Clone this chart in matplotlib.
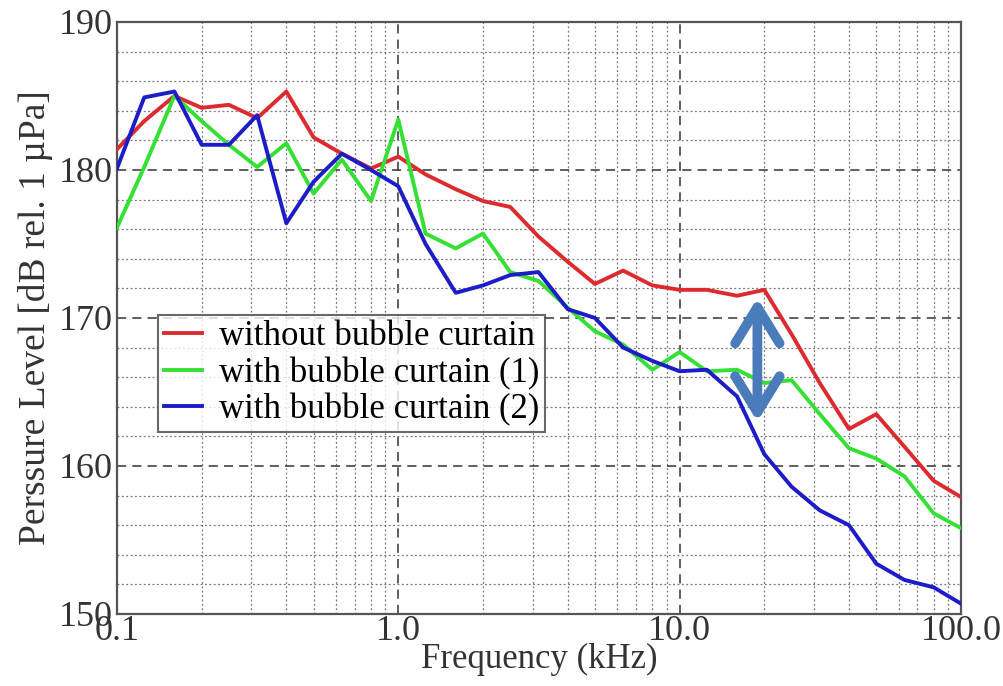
import numpy as np
import matplotlib
matplotlib.use("Agg")
import matplotlib.pyplot as plt
from matplotlib.ticker import FixedLocator, FixedFormatter, NullFormatter, LogLocator

# 1/3-octave band centre frequencies (kHz)
freq = [0.1, 0.125, 0.16, 0.2, 0.25, 0.315, 0.4, 0.5, 0.63, 0.8,
        1.0, 1.25, 1.6, 2.0, 2.5, 3.15, 4.0, 5.0, 6.3, 8.0,
        10.0, 12.5, 16.0, 20.0, 25.0, 31.5, 40.0, 50.0, 63.0, 80.0, 100.0]

no_curtain = [181.4, 183.3, 185.0, 184.2, 184.4, 183.5, 185.3, 182.2, 181.1, 180.1,
              180.9, 179.7, 178.7, 177.9, 177.5, 175.5, 173.8, 172.3, 173.2, 172.2,
              171.9, 171.9, 171.5, 171.9, 168.9, 165.6, 162.5, 163.5, 161.3, 159.0, 157.9]

curtain_1 = [176.1, 180.2, 185.0, 183.3, 181.7, 180.2, 181.8, 178.4, 180.7, 177.9,
             183.4, 175.7, 174.7, 175.7, 173.1, 172.5, 170.7, 169.1, 168.2, 166.5,
             167.7, 166.4, 166.5, 165.6, 165.8, 163.5, 161.2, 160.5, 159.3, 156.8, 155.8]

curtain_2 = [180.1, 184.9, 185.3, 181.7, 181.7, 183.7, 176.4, 179.2, 181.1, 180.0,
             178.9, 175.0, 171.7, 172.2, 172.9, 173.1, 170.6, 170.0, 168.0, 167.1,
             166.4, 166.5, 164.7, 160.8, 158.6, 157.0, 156.0, 153.4, 152.3, 151.8, 150.7]

series_labels = ["without bubble curtain", "with bubble curtain (1)", "with bubble curtain (2)"]
series_colors = ["#dd2a2e", "#33e033", "#1c1cc8"]

x_ticks = [0.1, 1.0, 10.0, 100.0]
x_ticklabels = ["0.1", "1.0", "10.0", "100.0"]
y_ticks = [150, 160, 170, 180, 190]

# arrow marking the reduction between curves
arrow_f = 18.9
arrow_y = (171.35, 163.0)

plt.rcParams["font.family"] = ["Liberation Serif", "DejaVu Serif"]

fig = plt.figure(figsize=(10.04, 6.86), dpi=100)
ax = fig.add_axes([0.1165, 0.105, 0.8406, 0.863])

for y, lab, col in zip([no_curtain, curtain_1, curtain_2], series_labels, series_colors):
    ax.plot(freq, y, color=col, lw=2.8, label=lab, zorder=3)

ax.set_xscale("log")
ax.set_xlim(0.1, 100)
ax.set_ylim(150, 190)

ax.xaxis.set_major_locator(FixedLocator(x_ticks))
ax.xaxis.set_major_formatter(FixedFormatter(x_ticklabels))
ax.xaxis.set_minor_locator(LogLocator(base=10, subs=np.arange(2, 10)))
ax.xaxis.set_minor_formatter(NullFormatter())
ax.set_yticks(y_ticks)
ax.set_yticks(np.arange(150, 191, 2), minor=True)

ax.grid(True, which="major", color="#333333", ls=(0, (6, 4)), lw=1.1, zorder=1)
ax.grid(True, which="minor", color="#777777", ls=(0, (1.5, 2)), lw=0.9, zorder=1)

ax.tick_params(which="both", length=0, labelsize=26, colors="#333333")
ax.tick_params(axis="y", pad=3)
ax.tick_params(axis="x", pad=1)
for s in ax.spines.values():
    s.set_color("#555555")
    s.set_linewidth(1.6)

ax.set_xlabel("Frequency (kHz)", fontsize=25, color="#333333", labelpad=-4)
ax.set_ylabel("Perssure Level [dB rel. 1 \u00b5Pa]", fontsize=27, color="#333333", labelpad=4)

leg = ax.legend(loc="upper left", bbox_to_anchor=(0.049, 0.505), fontsize=25,
                frameon=True, fancybox=False, edgecolor="#444444",
                handlelength=1.1, handletextpad=0.5, borderpad=0.15, labelspacing=0.1,
                borderaxespad=0)
leg.get_frame().set_linewidth(1.5)
leg.set_zorder(4)

# open chevron heads on both ends, thick rounded strokes
ax.annotate("", xy=(arrow_f, arrow_y[0]), xytext=(arrow_f, arrow_y[1]),
            arrowprops=dict(arrowstyle="<->,head_length=1.3,head_width=0.8",
                            mutation_scale=20, color="#4a7cbb", lw=7,
                            capstyle="round", joinstyle="round",
                            shrinkA=0, shrinkB=0),
            zorder=5)

fig.savefig("out.png", dpi=100)
